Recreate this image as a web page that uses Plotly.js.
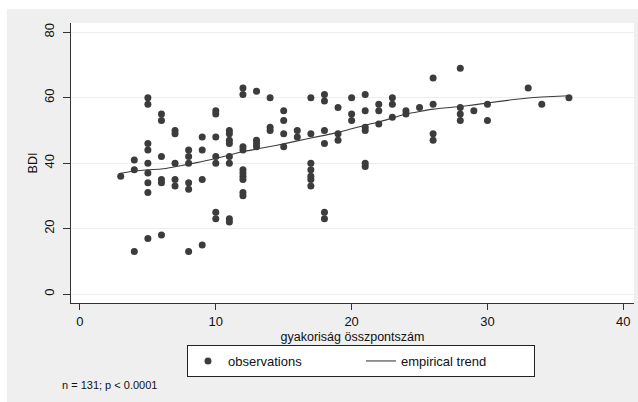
<!DOCTYPE html>
<html>
<head>
<meta charset="utf-8">
<script src="https://cdn.plot.ly/plotly-3.0.1.min.js"></script>
<style>
  html, body { margin: 0; padding: 0; background: #ffffff; width: 638px; height: 402px; overflow: hidden; }
  #chart { position: absolute; left: 7px; top: 9px; width: 631px; height: 393px; }
</style>
</head>
<body>
<div id="chart"></div>
<script>
// Observations: gyakoriság összpontszám (x) vs BDI (y)
var obsX = [
  3,
  4, 4, 4,
  5, 5, 5, 5, 5, 5, 5, 5, 5,
  6, 6, 6, 6, 6, 6,
  7, 7, 7, 7, 7,
  8, 8, 8, 8, 8, 8,
  9, 9, 9, 9,
  10, 10, 10, 10, 10, 10, 10,
  11, 11, 11, 11, 11, 11, 11, 11,
  12, 12, 12, 12, 12, 12, 12, 12, 12, 12,
  13, 13, 13, 13,
  14, 14, 14,
  15, 15, 15, 15,
  16, 16,
  17, 17, 17, 17, 17, 17, 17,
  18, 18, 18, 18, 18, 18,
  19, 19, 19,
  20, 20, 20,
  21, 21, 21, 21, 21, 21,
  22, 22, 22,
  23, 23, 23,
  24, 24,
  25,
  26, 26, 26, 26,
  28, 28, 28, 28,
  29,
  30, 30,
  33,
  34,
  36
];
var obsY = [
  36,
  41, 38, 13,
  60, 58, 46, 44, 40, 37, 34, 31, 17,
  55, 53, 42, 35, 34, 18,
  50, 49, 40, 35, 33,
  44, 42, 40, 34, 32, 13,
  48, 44, 35, 15,
  56, 55, 48, 42, 40, 25, 23,
  50, 49, 47, 46, 42, 40, 23, 22,
  63, 61, 45, 44, 38, 37, 36, 35, 31, 30,
  62, 47, 46, 45,
  60, 51, 50,
  56, 53, 49, 45,
  50, 48,
  60, 49, 40, 38, 36, 35, 33,
  61, 59, 50, 46, 25, 23,
  57, 49, 47,
  60, 55, 53,
  61, 56, 51, 50, 40, 39,
  58, 56, 52,
  60, 58, 54,
  56, 55,
  57,
  66, 58, 49, 47,
  69, 57, 55, 53,
  56,
  58, 53,
  63,
  58,
  60
];
// Empirical (lowess) trend
var trendX = [3, 4, 5, 6, 7, 8, 9, 10, 11, 12, 13, 14, 15, 16, 17, 18, 19, 20, 21, 22, 23, 24, 25, 26, 28, 29, 30, 33, 34, 36];
var trendY = [36.9, 37.6, 38.0, 38.2, 38.9, 39.7, 40.5, 41.4, 42.5, 43.5, 44.3, 45.1, 45.9, 46.8, 47.7, 48.5, 49.4, 50.5, 51.6, 52.6, 53.8, 55.0, 55.8, 56.5, 57.3, 57.8, 58.4, 59.9, 60.2, 60.6];
var xTicks = [0, 10, 20, 30, 40];
var yTicks = [0, 20, 40, 60, 80];

var FONT = 'Arial, "Liberation Sans", sans-serif';
var INK = '#3c3c3c';

var traces = [
  {
    type: 'scatter', mode: 'markers', name: 'observations',
    x: obsX, y: obsY,
    marker: { color: INK, size: 7, line: { width: 0 } },
    hoverinfo: 'x+y'
  },
  {
    type: 'scatter', mode: 'lines', name: 'empirical trend',
    x: trendX, y: trendY,
    line: { color: INK, width: 1.1, shape: 'spline', smoothing: 0.6 },
    hoverinfo: 'x+y'
  }
];

var layout = {
  width: 631, height: 393,
  margin: { l: 64, r: 4, t: 14, b: 99 },
  paper_bgcolor: '#efefef',
  plot_bgcolor: '#ffffff',
  font: { family: FONT, size: 12, color: '#111111' },
  showlegend: true,
  xaxis: {
    range: [-0.66, 40.79],
    tickmode: 'array', tickvals: xTicks, ticktext: xTicks.map(String),
    ticks: 'outside', ticklen: 6, tickcolor: '#333333', tickwidth: 1,
    showline: true, linecolor: '#333333', linewidth: 1,
    showgrid: false, zeroline: false,
    tickfont: { family: FONT, size: 13, color: '#111111' },
    title: { text: 'gyakoriság összpontszám', font: { family: FONT, size: 12.5, color: '#111111' }, standoff: 4 }
  },
  yaxis: {
    range: [-2.75, 82.84],
    tickmode: 'array', tickvals: yTicks, ticktext: yTicks.map(String),
    ticks: 'outside', ticklen: 7, tickcolor: '#333333', tickwidth: 1,
    tickangle: -90,
    ticklabelstandoff: 4,
    showline: true, linecolor: '#333333', linewidth: 1,
    showgrid: true, gridcolor: '#eeeeee', gridwidth: 1,
    zeroline: false,
    tickfont: { family: FONT, size: 13, color: '#111111' },
    title: { text: 'BDI', font: { family: FONT, size: 12.5, color: '#111111' }, standoff: 1 }
  },
  legend: {
    orientation: 'h',
    x: 0.206, xanchor: 'left',
    y: -0.15, yanchor: 'top',
    bgcolor: '#ffffff', bordercolor: '#222222', borderwidth: 1,
    font: { family: FONT, size: 13, color: '#111111' },
    entrywidth: 128, entrywidthmode: 'pixels',
    itemwidth: 30
  },
  annotations: [
    {
      xref: 'paper', yref: 'paper',
      x: -0.0195, y: -0.293, xanchor: 'left', yanchor: 'middle',
      text: 'n = 131; p < 0.0001', showarrow: false,
      font: { family: FONT, size: 11, color: '#111111' }
    }
  ]
};

Plotly.newPlot('chart', traces, layout, { displayModeBar: false, staticPlot: true });
</script>
</body>
</html>
